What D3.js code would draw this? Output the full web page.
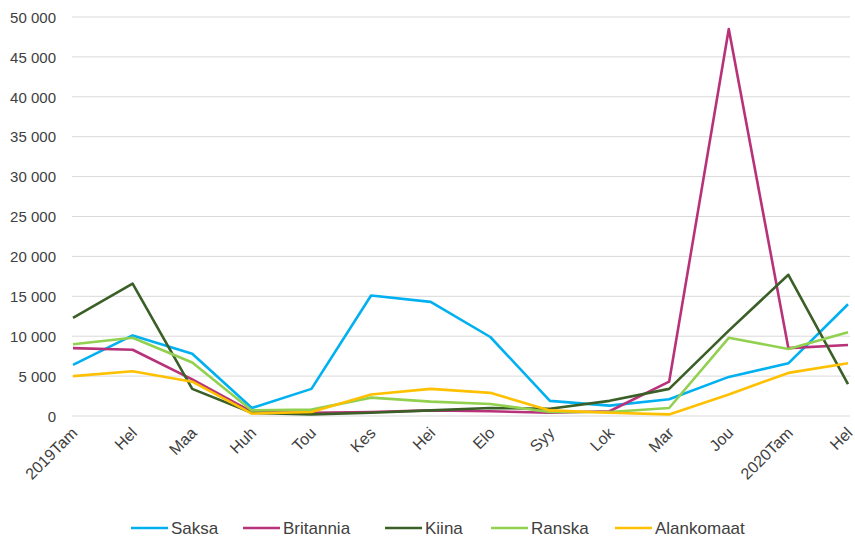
<!DOCTYPE html>
<html><head><meta charset="utf-8">
<script src="https://cdn.jsdelivr.net/npm/d3@7"></script>
<style>body{margin:0;background:#fff}svg{display:block}text{font-family:"Liberation Sans",Arial,sans-serif;fill:#404040}</style>
</head><body><svg id="c" width="855" height="538"></svg>
<script>
const categories = ["2019Tam","Hel","Maa","Huh","Tou","Kes","Hei","Elo","Syy","Lok","Mar","Jou","2020Tam","Hel"];
const saksa      = [6400,10100,7800,1000,3400,15100,14300,9900,1900,1300,2100,4900,6600,14000];
const britannia  = [8500,8300,4600,500,400,500,700,600,400,600,4300,48500,8500,8900];
const kiina      = [12300,16600,3400,400,200,400,700,1000,900,1900,3400,10700,17700,4000];
const ranska     = [9000,9800,6700,700,800,2300,1800,1500,500,500,1000,9800,8400,10500];
const alankomaat = [5000,5600,4300,300,500,2700,3400,2900,700,400,200,2700,5400,6600];
const yTicks = [0,5000,10000,15000,20000,25000,30000,35000,40000,45000,50000];
const seriesNames = ["Saksa","Britannia","Kiina","Ranska","Alankomaat"];
const seriesValues = [saksa,britannia,kiina,ranska,alankomaat];
const colors = ["#00B0F0","#B8327A","#3A5F27","#92D050","#FFC000"];

const svg = d3.select("#c");
const L = 73, R = 848, T = 17, B = 416;
const x = d3.scalePoint().domain(d3.range(categories.length)).range([L, R]);
const y = d3.scaleLinear().domain([0, 50000]).range([B, T]);
const fmt = v => d3.format(",")(v).replace(/,/g, " ");

// grid
svg.append("g").selectAll("line").data(yTicks).join("line")
  .attr("x1", L - 1).attr("x2", R + 2)
  .attr("y1", d => y(d)).attr("y2", d => y(d))
  .attr("stroke", "#d9d9d9").attr("stroke-width", 1);

// y axis
const ya = svg.append("g").attr("transform", `translate(${L},0)`)
  .call(d3.axisLeft(y).tickValues(yTicks).tickFormat(fmt).tickSize(0).tickPadding(17));
ya.select(".domain").remove();
ya.selectAll("text").style("font-size", "15px").attr("fill", "#404040").attr("dy", "0.35em");

// x axis
const xa = svg.append("g").attr("transform", `translate(0,${B})`)
  .call(d3.axisBottom(x).tickFormat(i => categories[i]).tickSize(0));
xa.select(".domain").remove();
xa.selectAll("text").style("font-size", "16px").attr("fill", "#404040")
  .attr("text-anchor", "end").attr("dy", 0).attr("y", 0)
  .attr("transform", "translate(5,18) rotate(-45)");

// lines
const line = d3.line().x((d, i) => x(i)).y(d => y(d));
svg.append("g").selectAll("path").data(seriesValues).join("path")
  .attr("d", line).attr("fill", "none")
  .attr("stroke", (d, i) => colors[i]).attr("stroke-width", 2.6)
  .attr("stroke-linejoin", "round");

// legend
const legX = [131, 243, 385, 491, 615];
const lg = svg.append("g").selectAll("g").data(seriesNames).join("g")
  .attr("transform", (d, i) => `translate(${legX[i]},528)`);
lg.append("line").attr("x1", 0).attr("x2", 37).attr("y1", 0).attr("y2", 0)
  .attr("stroke", (d, i) => colors[i]).attr("stroke-width", 2.6);
lg.append("text").attr("x", 40).attr("y", 0).attr("dy", "0.35em")
  .style("font-size", "17px").attr("fill", "#404040").text(d => d);
</script></body></html>
